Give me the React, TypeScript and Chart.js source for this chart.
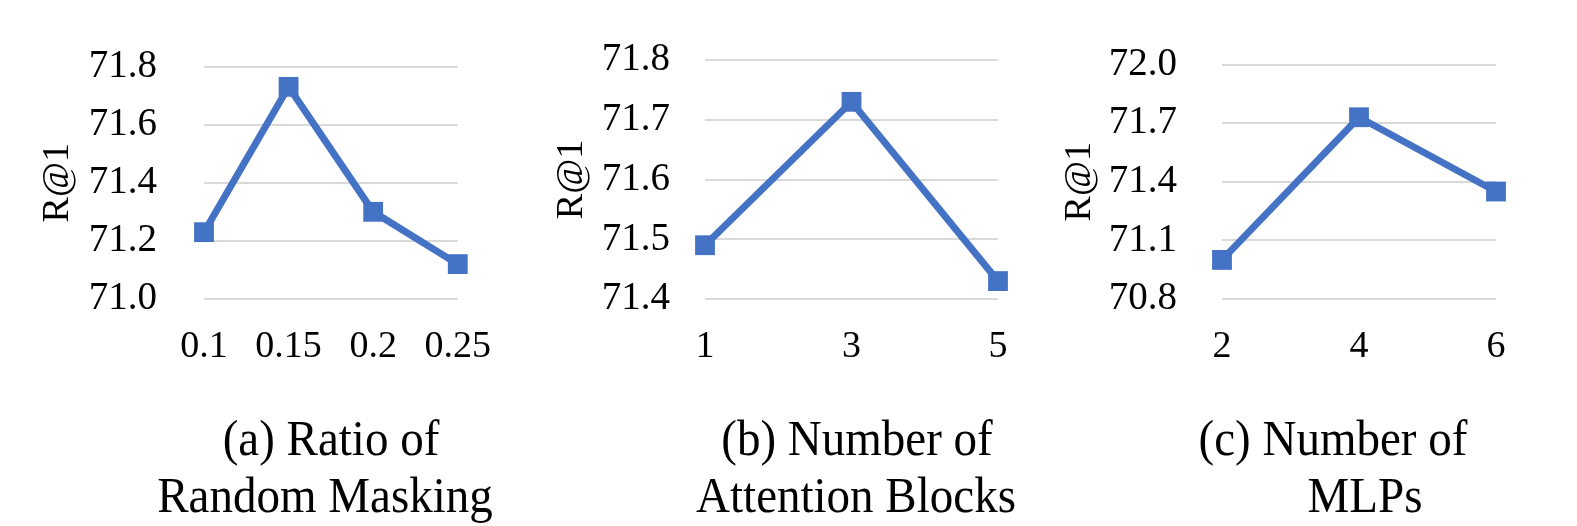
import React, { useEffect, useRef } from 'react';
import { Chart, registerables } from 'chart.js';

Chart.register(...registerables);

const FONT = '"Liberation Serif", "Times New Roman", Times, serif';
const LINE_COLOR = '#4472C4';
const GRID_COLOR = '#d9d9d9';

// Panel (a): Ratio of Random Masking
const labelsA = ['0.1', '0.15', '0.2', '0.25'];
const valuesA = [71.23, 71.73, 71.3, 71.12];
const yMinA = 71.0;
const yMaxA = 71.8;
const yStepA = 0.2;

// Panel (b): Number of Attention Blocks
const labelsB = ['1', '3', '5'];
const valuesB = [71.49, 71.73, 71.43];
const yMinB = 71.4;
const yMaxB = 71.8;
const yStepB = 0.1;

// Panel (c): Number of MLPs
const labelsC = ['2', '4', '6'];
const valuesC = [71.0, 71.73, 71.35];
const yMinC = 70.8;
const yMaxC = 72.0;
const yStepC = 0.3;

const yTitle = 'R@1';

type PanelProps = {
  labels: string[];
  values: number[];
  yMin: number;
  yMax: number;
  yStep: number;
  left: number;
  width: number;
  yWidth: number;
  rightPad: number;
  titleOffset: number;
  yTickPad: number;
};

const CANVAS_H = 400;
const AREA_TOP = 60;
const AREA_BOTTOM = 299;

function Panel(p: PanelProps) {
  const ref = useRef<HTMLCanvasElement | null>(null);
  useEffect(() => {
    if (!ref.current) return;
    const chart = new Chart(ref.current, {
      type: 'line',
      data: {
        labels: p.labels,
        datasets: [
          {
            data: p.values,
            borderColor: LINE_COLOR,
            backgroundColor: LINE_COLOR,
            borderWidth: 7,
            pointStyle: 'rect',
            pointRadius: 14,
            pointHoverRadius: 14,
            pointBorderWidth: 0,
            pointBackgroundColor: LINE_COLOR,
            tension: 0,
            clip: false,
          } as any,
        ],
      },
      options: {
        animation: false,
        responsive: false,
        maintainAspectRatio: false,
        layout: {
          padding: { top: AREA_TOP, right: p.rightPad, left: 0, bottom: 0 },
        },
        plugins: {
          legend: { display: false },
          tooltip: { enabled: false },
          title: { display: false },
        },
        scales: {
          x: {
            type: 'category',
            offset: false,
            grid: { display: false, drawTicks: false, tickLength: 0 },
            border: { display: false },
            ticks: {
              color: '#000',
              padding: 29,
              maxRotation: 0,
              autoSkip: false,
              font: { family: FONT, size: 38, lineHeight: 1 },
            },
            afterFit: (s: any) => {
              s.height = CANVAS_H - AREA_BOTTOM;
            },
          },
          y: {
            type: 'linear',
            min: p.yMin,
            max: p.yMax,
            grid: {
              color: GRID_COLOR,
              lineWidth: 2,
              drawTicks: false,
              tickLength: 0,
            },
            border: { display: false },
            ticks: {
              stepSize: p.yStep,
              color: '#000',
              padding: p.yTickPad,
              font: { family: FONT, size: 39, lineHeight: 1 },
              callback: (v: any) => Number(v).toFixed(1),
            },
            title: {
              display: true,
              text: yTitle,
              color: '#000',
              font: { family: FONT, size: 38, lineHeight: 1 },
              padding: { top: p.titleOffset, bottom: 0 },
            },
            afterFit: (s: any) => {
              s.width = p.yWidth;
            },
          },
        },
      },
    } as any);
    return () => chart.destroy();
  }, []);
  return (
    <canvas
      ref={ref}
      width={p.width}
      height={CANVAS_H}
      style={{ position: 'absolute', left: p.left, top: 0, width: p.width, height: CANVAS_H }}
    />
  );
}

type CaptionLine = { text: string; cx: number; baseline: number };

const captionLines: CaptionLine[] = [
  { text: '(a) Ratio of', cx: 331, baseline: 455 },
  { text: 'Random Masking', cx: 325, baseline: 512 },
  { text: '(b) Number of', cx: 857, baseline: 455 },
  { text: 'Attention Blocks', cx: 856, baseline: 512 },
  { text: '(c) Number of', cx: 1333, baseline: 455 },
  { text: 'MLPs', cx: 1365, baseline: 512 },
];

const CAP_SIZE = 47;
const CAP_ASC = 39.4;

export default function App() {
  return (
    <div
      style={{
        position: 'absolute',
        left: 0,
        top: 0,
        width: 1577,
        height: 526,
        background: '#fff',
        overflow: 'hidden',
      }}
    >
      <Panel
        labels={labelsA}
        values={valuesA}
        yMin={yMinA}
        yMax={yMaxA}
        yStep={yStepA}
        left={0}
        width={520}
        yWidth={204}
        rightPad={59}
        titleOffset={39}
        yTickPad={47}
      />
      <Panel
        labels={labelsB}
        values={valuesB}
        yMin={yMinB}
        yMax={yMaxB}
        yStep={yStepB}
        left={520}
        width={520}
        yWidth={185}
        rightPad={42}
        titleOffset={33}
        yTickPad={35}
      />
      <Panel
        labels={labelsC}
        values={valuesC}
        yMin={yMinC}
        yMax={yMaxC}
        yStep={yStepC}
        left={1040}
        width={537}
        yWidth={182}
        rightPad={81}
        titleOffset={21}
        yTickPad={45}
      />
      {captionLines.map((c, i) => (
        <div
          key={i}
          style={{
            position: 'absolute',
            left: c.cx,
            top: c.baseline - CAP_ASC,
            fontFamily: FONT,
            fontSize: CAP_SIZE,
            lineHeight: `${CAP_SIZE}px`,
            whiteSpace: 'nowrap',
            color: '#000',
            transform: 'translateX(-50%) scaleY(1.07)',
            transformOrigin: `50% ${CAP_ASC}px`,
          }}
        >
          {c.text}
        </div>
      ))}
    </div>
  );
}
